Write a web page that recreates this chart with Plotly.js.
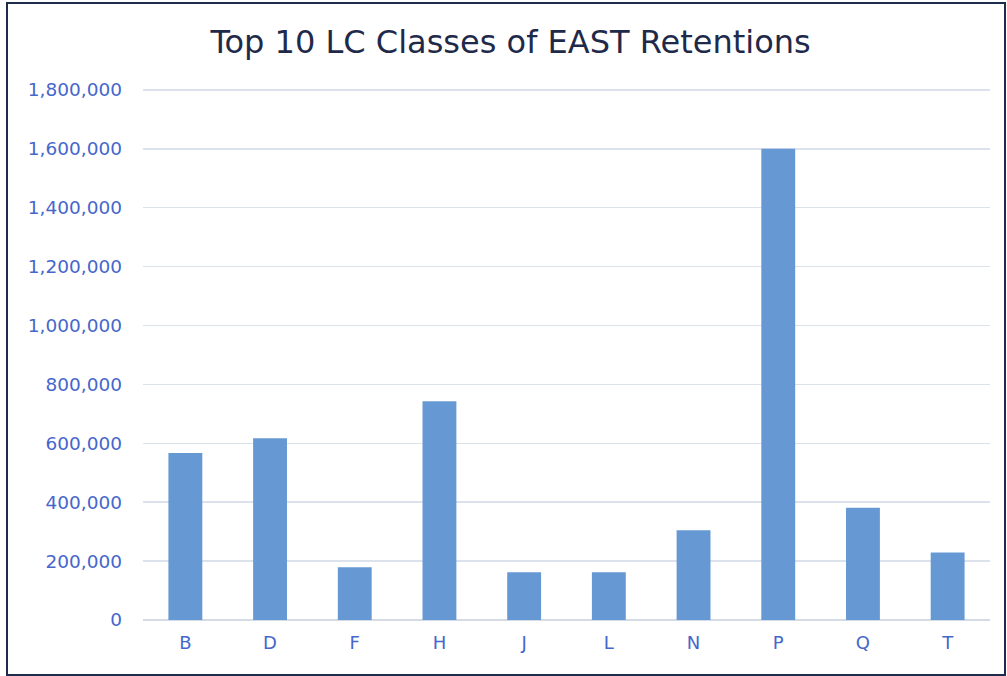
<!DOCTYPE html>
<html>
<head>
<meta charset="utf-8">
<script src="https://cdn.plot.ly/plotly-3.0.1.min.js"></script>
<style>
  html, body { margin: 0; padding: 0; background: #ffffff; }
  #wrap { position: relative; width: 1007px; height: 676px; overflow: hidden; }
  #chart { position: absolute; left: 0; top: 0; width: 1007px; height: 676px; }
  #frame { position: absolute; left: 6px; top: 2px; width: 996px; height: 670px;
           border: 2px solid #1d2b4c; pointer-events: none; }
</style>
</head>
<body>
<div id="wrap">
  <div id="chart"></div>
  <div id="frame"></div>
</div>
<script>
const categories = ["B", "D", "F", "H", "J", "L", "N", "P", "Q", "T"];
const retentions = [567000, 617000, 179000, 743000, 162000, 162000, 305000, 1600000, 381000, 229000];
const yTickValues = [0, 200000, 400000, 600000, 800000, 1000000, 1200000, 1400000, 1600000, 1800000];
const yTickLabels = ["0", "200,000", "400,000", "600,000", "800,000", "1,000,000", "1,200,000", "1,400,000", "1,600,000", "1,800,000"];
const chartTitle = "Top 10 LC Classes of EAST Retentions";

const trace = {
  type: "bar",
  x: categories,
  y: retentions,
  marker: { color: "#6699d3" },
  hoverinfo: "x+y"
};

const layout = {
  width: 1007,
  height: 676,
  paper_bgcolor: "#ffffff",
  plot_bgcolor: "#ffffff",
  margin: { l: 143, r: 17, t: 87, b: 56 },
  bargap: 0.6,
  showlegend: false,
  title: {
    text: chartTitle,
    font: { family: "DejaVu Sans, Arial, sans-serif", size: 32, color: "#1f2a4a" },
    x: 0.507,
    xanchor: "center",
    y: 0.938,
    yanchor: "middle"
  },
  xaxis: {
    type: "category",
    tickfont: { family: "DejaVu Sans, Arial, sans-serif", size: 18, color: "#4567cc" },
    showgrid: false,
    showline: false,
    ticks: "",
    ticklabelstandoff: 10,
    fixedrange: true
  },
  yaxis: {
    range: [0, 1810000],
    tickvals: yTickValues,
    ticktext: yTickLabels,
    tickfont: { family: "DejaVu Sans, Arial, sans-serif", size: 18.5, color: "#4567cc" },
    gridcolor: "#dbe2ec",
    gridwidth: 1.5,
    zeroline: true,
    zerolinecolor: "#d4dbe6",
    zerolinewidth: 1.5,
    showline: false,
    ticks: "",
    ticklabelstandoff: 20,
    fixedrange: true
  }
};

Plotly.newPlot("chart", [trace], layout, { displayModeBar: false, staticPlot: true });
</script>
</body>
</html>
